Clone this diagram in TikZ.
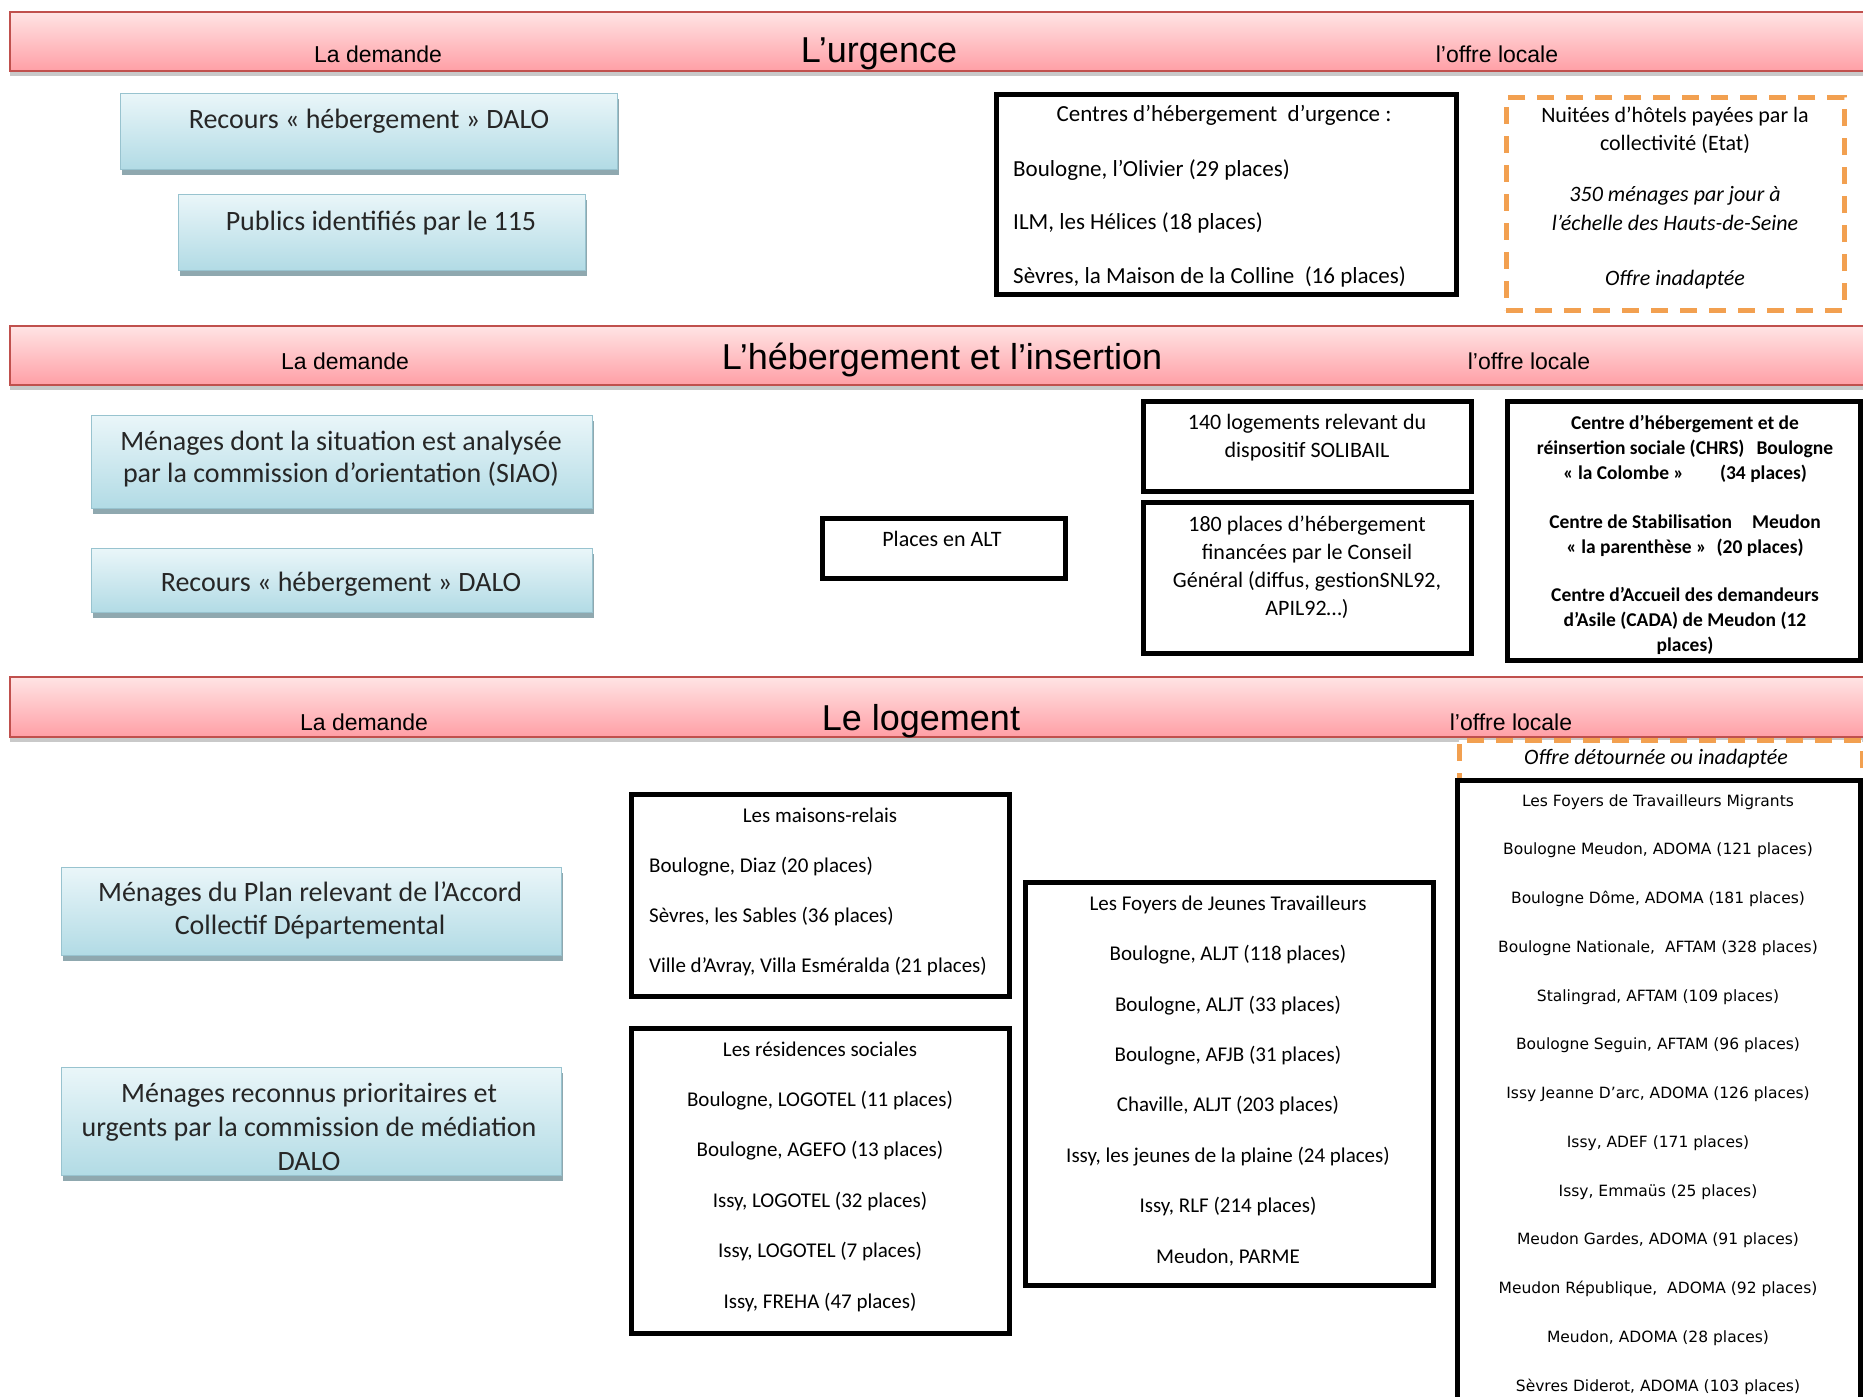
\documentclass[tikz,border=0pt]{standalone}
\usepackage{fontspec}
\setmainfont{Carlito}
\newfontfamily\headfont{Liberation Sans}
\newfontfamily\listfont{DejaVu Sans}
\usetikzlibrary{shadows}
\definecolor{bandtop}{HTML}{FFE4E4}
\definecolor{bandbot}{HTML}{FF9FA6}
\definecolor{bandline}{HTML}{C0504D}
\definecolor{bluetop}{HTML}{EAF6F9}
\definecolor{bluebot}{HTML}{B2DBE5}
\definecolor{blueline}{HTML}{98C3CF}
\definecolor{blueshadow}{HTML}{8FA8AF}
\definecolor{dashorange}{HTML}{F2A050}
\definecolor{inkgray}{HTML}{262626}

% Multi-line text nodes below are placed by the baseline of their last line.
\begin{document}
\begin{tikzpicture}[x=1pt,y=-1pt,
  band/.style={rectangle, draw=bandline, line width=1.5pt, top color=bandtop,
    bottom color=bandbot, inner sep=0pt,
    drop shadow={shadow xshift=0pt, shadow yshift=-5pt, opacity=.35, fill=black!60}},
  bluebox/.style={rectangle, draw=blueline, line width=1pt, top color=bluetop,
    bottom color=bluebot, inner sep=0pt,
    drop shadow={shadow xshift=1.5pt, shadow yshift=-6pt, opacity=1, fill=blueshadow}},
  blackbox/.style={rectangle, draw=black, line width=5pt, fill=white, inner sep=0pt},
  dashbox/.style={rectangle, draw=dashorange, line width=5pt,
    dash pattern=on 17pt off 12pt, fill=white, inner sep=0pt},
  headlabel/.style={font=\headfont\fontsize{23}{28}\selectfont, anchor=base, inner sep=0pt},
  headtitle/.style={font=\headfont\fontsize{36}{42}\selectfont, anchor=base, inner sep=0pt},
  bluetext/.style={text=inkgray, anchor=base, inner sep=0pt, align=center},
  boxtext/.style={anchor=base, inner sep=0pt, align=center},
]
\useasboundingbox (0,0) rectangle (1863,1397);
\fill[white] (0,0) rectangle (1863,1397);
\clip (0,0) rectangle (1863,1397);

% ---------------- L'urgence ----------------
\node[band, minimum width=1870pt, minimum height=59pt] (band1) at (945,41.5) {};
\node[headlabel] (dem1) at (378,63) {La demande};
\node[headtitle] (tit1) at (879,63) {L’urgence};
\node[headlabel] (off1) at (1497,63) {l’offre locale};

\node[bluebox, minimum width=497pt, minimum height=76pt] (recours1) at (368.5,131) {};
\node[bluetext, font=\fontsize{28}{33}\selectfont] (recours1t) at (369,128) {Recours « hébergement » DALO};
\node[bluebox, minimum width=407pt, minimum height=76pt] (publics) at (381.5,232) {};
\node[bluetext, font=\fontsize{28}{33}\selectfont] (publicst) at (381,230) {Publics identifiés par le 115};

\node[blackbox, minimum width=460pt, minimum height=200pt] (chu) at (1226,194) {};
\node[boxtext, font=\fontsize{23}{28}\selectfont] (chutit) at (1224,121) {Centres d’hébergement\ \ d’urgence :};
\node[boxtext, anchor=base west, align=left, font=\fontsize{23}{53.5}\selectfont] (chulist) at (1013,283)
  {Boulogne, l’Olivier (29 places)\\ILM, les Hélices (18 places)\\Sèvres, la Maison de la Colline\ \ (16 places)};

\node[dashbox, minimum width=338pt, minimum height=213pt] (nuitees) at (1675,203.5) {};
\node[boxtext, font=\fontsize{22}{28.5}\selectfont] (nuiteest) at (1675,285)
  {Nuitées d’hôtels payées par la\\collectivité (Etat)\\[22.5pt]
   {\itshape 350 ménages par jour à}\\{\itshape l’échelle des Hauts-de-Seine}\\[26.5pt]
   {\itshape Offre inadaptée}};

% ---------------- L'hébergement et l'insertion ----------------
\node[band, minimum width=1870pt, minimum height=59pt] (band2) at (945,355.5) {};
\node[headlabel] (dem2) at (345,369) {La demande};
\node[headtitle] (tit2) at (942,369) {L’hébergement et l’insertion};
\node[headlabel] (off2) at (1529,369) {l’offre locale};

\node[bluebox, minimum width=501pt, minimum height=93pt] (siao) at (341.5,461.5) {};
\node[bluetext, font=\fontsize{28}{32}\selectfont] (siaot) at (341,482)
  {Ménages dont la situation est analysée\\par la commission d’orientation (SIAO)};
\node[bluebox, minimum width=501pt, minimum height=64pt] (recours2) at (341.5,580) {};
\node[bluetext, font=\fontsize{28}{33}\selectfont] (recours2t) at (341,591) {Recours « hébergement » DALO};

\node[blackbox, minimum width=243pt, minimum height=60pt] (alt) at (943.5,548) {};
\node[boxtext, font=\fontsize{22}{28}\selectfont] (altt) at (942,546) {Places en ALT};

\node[blackbox, minimum width=328pt, minimum height=90pt] (soli) at (1307,446) {};
\node[boxtext, font=\fontsize{22}{28}\selectfont] (solit) at (1307,457)
  {140 logements relevant du\\dispositif SOLIBAIL};
\node[blackbox, minimum width=328pt, minimum height=151pt] (cg) at (1307,577.5) {};
\node[boxtext, font=\fontsize{22}{28}\selectfont] (cgt) at (1307,615)
  {180 places d’hébergement\\financées par le Conseil\\Général (diffus, gestionSNL92,\\APIL92…)};

\node[blackbox, minimum width=353pt, minimum height=259pt] (chrs) at (1683.5,530.5) {};
\node[boxtext, font=\bfseries\fontsize{19.5}{25}\selectfont] (chrst) at (1685,651)
  {Centre d’hébergement et de\\réinsertion sociale (CHRS)\hspace{12pt}Boulogne\\
   « la Colombe »\hspace{36pt}(34 places)\\[24pt]
   Centre de Stabilisation\hspace{20pt}Meudon\\« la parenthèse »\hspace{10pt}(20 places)\\[23pt]
   Centre d’Accueil des demandeurs\\d’Asile (CADA) de Meudon (12\\places)};

% ---------------- Le logement ----------------
\node[band, minimum width=1870pt, minimum height=60pt] (band3) at (945,707) {};
\node[headlabel] (dem3) at (364,730) {La demande};
\node[headtitle] (tit3) at (921,730) {Le logement};
\node[headlabel] (off3) at (1511,730) {l’offre locale};

\node[bluebox, minimum width=500pt, minimum height=88pt] (acd) at (311,911) {};
\node[bluetext, font=\fontsize{28}{33}\selectfont] (acdt) at (310,934)
  {Ménages du Plan relevant de l’Accord\\Collectif Départemental};
\node[bluebox, minimum width=500pt, minimum height=108pt] (dalo) at (311,1121) {};
\node[bluetext, font=\fontsize{28}{34}\selectfont] (dalot) at (309,1170)
  {Ménages reconnus prioritaires et\\urgents par la commission de médiation\\DALO};

\node[blackbox, minimum width=378pt, minimum height=202pt] (relais) at (820,895) {};
\node[boxtext, font=\fontsize{21}{26}\selectfont] (relaistit) at (820,822) {Les maisons-relais};
\node[boxtext, anchor=base west, align=left, font=\fontsize{21}{50}\selectfont] (relaislist) at (649,972)
  {Boulogne, Diaz (20 places)\\Sèvres, les Sables (36 places)\\Ville d’Avray, Villa Esméralda (21 places)};

\node[blackbox, minimum width=378pt, minimum height=305pt] (resid) at (820,1180.5) {};
\node[boxtext, font=\fontsize{21}{50.4}\selectfont] (residt) at (820,1308)
  {Les résidences sociales\\Boulogne, LOGOTEL (11 places)\\Boulogne, AGEFO (13 places)\\
   Issy, LOGOTEL (32 places)\\Issy, LOGOTEL (7 places)\\Issy, FREHA (47 places)};

\node[blackbox, minimum width=408pt, minimum height=403pt] (fjt) at (1229,1083.5) {};
\node[boxtext, font=\fontsize{21}{50.4}\selectfont] (fjtt) at (1228,1263)
  {Les Foyers de Jeunes Travailleurs\\Boulogne, ALJT (118 places)\\Boulogne, ALJT (33 places)\\
   Boulogne, AFJB (31 places)\\Chaville, ALJT (203 places)\\Issy, les jeunes de la plaine (24 places)\\
   Issy, RLF (214 places)\\Meudon, PARME};

\node[dashbox, minimum width=403pt, minimum height=60pt] (detour) at (1660.5,770) {};
\node[boxtext, font=\itshape\fontsize{22}{28}\selectfont] (detourt) at (1656,764) {Offre détournée ou inadaptée};

\node[blackbox, minimum width=403pt, minimum height=640pt] (ftm) at (1658.5,1100) {};
\node[boxtext, font=\listfont\fontsize{15.5}{48.75}\selectfont] (ftmt) at (1658,1391)
  {Les Foyers de Travailleurs Migrants\\Boulogne Meudon, ADOMA (121 places)\\
   Boulogne Dôme, ADOMA (181 places)\\Boulogne Nationale,\ \ AFTAM (328 places)\\
   Stalingrad, AFTAM (109 places)\\Boulogne Seguin, AFTAM (96 places)\\
   Issy Jeanne D’arc, ADOMA (126 places)\\Issy, ADEF (171 places)\\
   Issy, Emmaüs (25 places)\\Meudon Gardes, ADOMA (91 places)\\
   Meudon République,\ \ ADOMA (92 places)\\Meudon, ADOMA (28 places)\\
   Sèvres Diderot, ADOMA (103 places)};
\end{tikzpicture}
\end{document}
